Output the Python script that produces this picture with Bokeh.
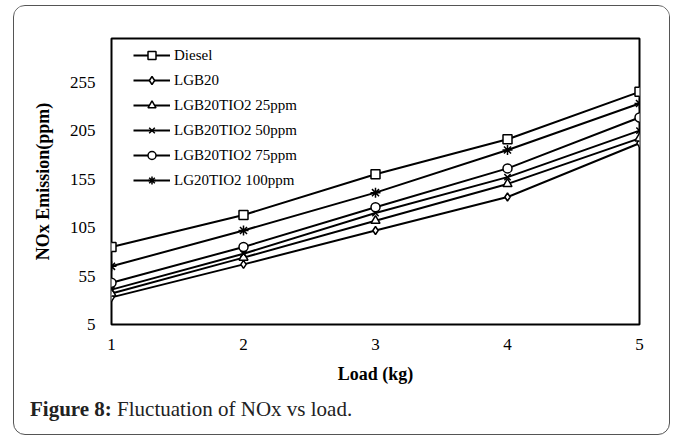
from bokeh.plotting import figure
from bokeh.layouts import column
from bokeh.embed import file_html
from bokeh.resources import INLINE
from bokeh.models import Range1d, FixedTicker, Legend, Div

load = [1, 2, 3, 4, 5]
diesel = [85, 118, 160, 196, 245]
lgb20 = [33, 67, 102, 136.5, 192]
tio2_25 = [37, 74, 112, 150, 197]
tio2_50 = [41, 78, 120, 157, 205]
tio2_75 = [48, 85, 126, 166, 218.5]
tio2_100 = [65, 102, 141, 185, 233]

series_names = ["Diesel", "LGB20", "LGB20TIO2 25ppm", "LGB20TIO2 50ppm",
                "LGB20TIO2 75ppm", "LG20TIO2 100ppm"]
series_values = [diesel, lgb20, tio2_25, tio2_50, tio2_75, tio2_100]
markers = ["square", "diamond", "triangle", "x", "circle", "asterisk"]
marker_sizes = [9, 8, 9, 9, 9, 10]

y_ticks = [5, 55, 105, 155, 205, 255]

caption_bold = "Figure 8:"
caption_text = "Fluctuation of NOx vs load."

SERIF = "Liberation Serif"

p = figure(width=655, height=390, output_backend="svg", toolbar_location=None,
           x_range=Range1d(1, 5), y_range=Range1d(5, 300),
           min_border_left=97, min_border_right=30, min_border_top=32,
           min_border_bottom=72)
p.grid.visible = False
p.outline_line_color = "black"
p.outline_line_width = 2
p.background_fill_color = "white"
p.border_fill_color = "white"

for ax in (p.xaxis[0], p.yaxis[0]):
    ax.axis_line_color = None
    ax.major_tick_line_color = None
    ax.minor_tick_line_color = None
    ax.major_tick_out = 0
    ax.major_tick_in = 0
    ax.major_label_text_font = SERIF
    ax.major_label_text_font_size = "17px"
    ax.major_label_text_color = "black"
    ax.axis_label_text_font = SERIF
    ax.axis_label_text_font_size = "18px"
    ax.axis_label_text_font_style = "bold"
    ax.axis_label_text_color = "black"

p.xaxis.major_label_text_font = SERIF
p.yaxis.major_label_text_font = SERIF
p.xaxis.ticker = FixedTicker(ticks=load)
p.yaxis.ticker = FixedTicker(ticks=y_ticks)
p.xaxis.major_label_standoff = 14
p.yaxis.major_label_standoff = 16
p.xaxis.axis_label = "Load (kg)"
p.yaxis.axis_label = "NOx Emission(ppm)"
p.xaxis.axis_label_standoff = 11
p.yaxis.axis_label_standoff = 14

items = []
for name, vals, mk, ms in zip(series_names, series_values, markers, marker_sizes):
    r1 = p.line(load, vals, line_color="black", line_width=2)
    r2 = p.scatter(load, vals, marker=mk, size=ms, line_color="black",
                   line_width=1.5, fill_color="white")
    items.append((name, [r1, r2]))

legend = Legend(items=items, location=(22, 134), padding=0, margin=0,
                border_line_color=None, background_fill_alpha=0,
                label_text_font=SERIF, label_text_font_size="15px",
                label_text_color="black", glyph_width=37, glyph_height=20,
                label_height=20, spacing=5, label_standoff=4)
p.add_layout(legend)

cap = Div(text="<b>" + caption_bold + "</b> " + caption_text,
          width=655, height=38, margin=0,
          styles={"font-family": SERIF, "font-size": "21px",
                  "line-height": "24px", "color": "#222222",
                  "padding-top": "1px", "padding-left": "16px",
                  "box-sizing": "border-box"})

layout = column(p, cap, spacing=0, margin=(5, 0, 0, 13),
                styles={"border": "1px solid #555555", "border-radius": "12px",
                        "overflow": "hidden", "background": "white"})

open("out.html", "w").write(file_html(layout, INLINE))
